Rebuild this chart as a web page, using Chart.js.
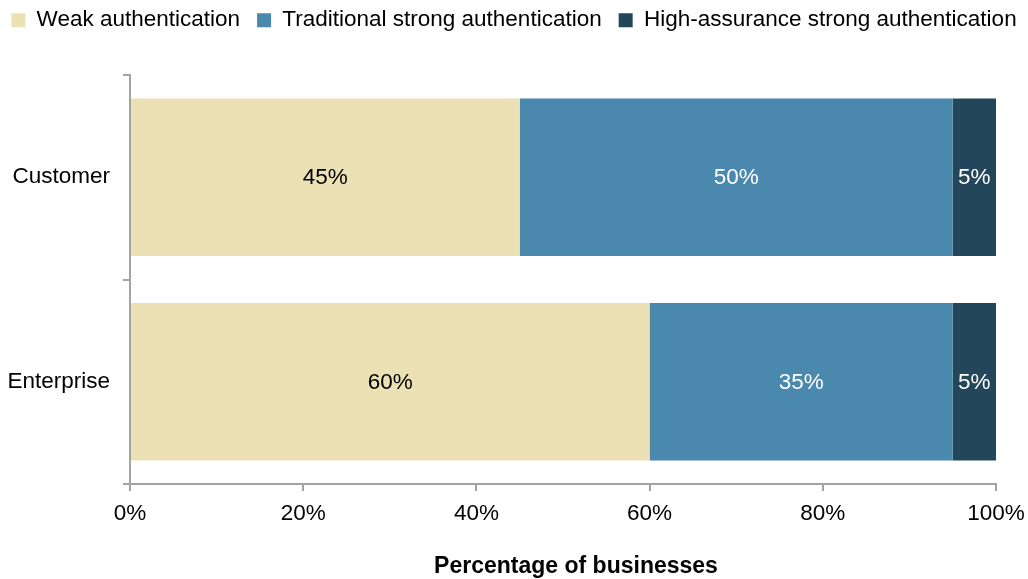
<!DOCTYPE html>
<html>
<head>
<meta charset="utf-8">
<script src="https://cdn.jsdelivr.net/npm/chart.js@4"></script>
<style>
    html, body { margin: 0; padding: 0; background: #fff; }
    #wrap { width: 1028px; height: 579px; }
</style>
</head>
<body>
<div id="wrap"><canvas id="authChart" width="1028" height="579"></canvas></div>
<script>
// Authentication mix by user type
const categories = ['Customer', 'Enterprise'];
const weakAuth = [45, 60];
const traditionalAuth = [50, 35];
const highAssuranceAuth = [5, 5];
const xTicks = [0, 20, 40, 60, 80, 100];

const FONT = '"Liberation Sans", Arial, sans-serif';
const FONT_SIZE = 22.5;
const AXIS_GREY = '#a3a3a3';

// Legend kept on one row with a fixed height, pulled up a little
const fitPlugin = {
    id: 'fitBoxes',
    beforeInit(chart) {
        const legend = chart.legend;
        if (legend) {
            const origFit = legend.fit;
            legend.fit = function () {
                const mw = this.maxWidth;
                this.maxWidth = 4000;
                origFit.call(this);
                this.maxWidth = mw;
                this.width = mw;
                this.height = 75;
            };
            const origDraw = legend.draw;
            legend.draw = function () {
                // widen the row bounds so the last item does not wrap
                const r = this.right;
                this.right = r + 60;
                const ctx = this.ctx;
                ctx.save();
                ctx.translate(-30, -8);
                origDraw.call(this);
                ctx.restore();
                this.right = r;
            };
        }
    },
    afterLayout(chart) {
        // axis title sits a bit right of the plot centre
        const xs = chart.scales.x;
        if (xs && !xs._titleShifted) {
            const origTitle = xs.drawTitle;
            xs.drawTitle = function () {
                const ctx = this.ctx;
                ctx.save();
                ctx.translate(13, 0);
                origTitle.call(this);
                ctx.restore();
            };
            xs._titleShifted = true;
        }
    }
};

// Percent labels centred in each segment
const segmentLabels = {
    id: 'segmentLabels',
    afterDatasetsDraw(chart) {
        const ctx = chart.ctx;
        ctx.save();
        ctx.font = FONT_SIZE + 'px ' + FONT;
        ctx.textAlign = 'center';
        ctx.textBaseline = 'middle';
        chart.data.datasets.forEach((ds, i) => {
            const meta = chart.getDatasetMeta(i);
            meta.data.forEach((bar, j) => {
                const p = bar.getProps(['x', 'y', 'base'], true);
                ctx.fillStyle = ds.labelColor;
                ctx.fillText(ds.data[j] + '%', (p.x + p.base) / 2, p.y + 1);
            });
        });
        ctx.restore();
    }
};

new Chart(document.getElementById('authChart'), {
    type: 'bar',
    data: {
        labels: categories,
        datasets: [
            { label: 'Weak authentication', data: weakAuth, backgroundColor: '#ebe1b5', labelColor: '#000' },
            { label: 'Traditional strong authentication', data: traditionalAuth, backgroundColor: '#4a88ad', labelColor: '#fff' },
            { label: 'High-assurance strong authentication', data: highAssuranceAuth, backgroundColor: '#24465a', labelColor: '#fff' }
        ]
    },
    options: {
        indexAxis: 'y',
        responsive: false,
        animation: false,
        devicePixelRatio: 1,
        layout: { padding: 0 },
        datasets: {
            bar: { categoryPercentage: 1, barPercentage: 0.77, borderWidth: 0 }
        },
        plugins: {
            legend: {
                position: 'top',
                labels: {
                    boxWidth: 14,
                    boxHeight: 14,
                    padding: 17,
                    color: '#000',
                    font: { family: FONT, size: FONT_SIZE }
                }
            },
            tooltip: { enabled: false }
        },
        scales: {
            x: {
                stacked: true,
                min: 0,
                max: 100,
                afterBuildTicks(scale) {
                    scale.ticks = xTicks.map(v => ({ value: v }));
                },
                afterFit(scale) {
                    scale.height = 95;
                    scale.paddingLeft = 0;
                    scale.paddingRight = 32;
                },
                ticks: {
                    color: '#000',
                    padding: 9,
                    font: { family: FONT, size: FONT_SIZE },
                    callback: v => v + '%'
                },
                grid: { drawOnChartArea: false, tickLength: 7, color: AXIS_GREY, lineWidth: 2 },
                border: { color: AXIS_GREY, width: 2 },
                title: {
                    display: true,
                    text: 'Percentage of businesses',
                    color: '#000',
                    padding: { top: 0, bottom: 0 },
                    font: { family: FONT, size: 23, weight: 'bold', lineHeight: 1.1 }
                }
            },
            y: {
                stacked: true,
                afterFit(scale) { scale.width = 130; },
                ticks: {
                    color: '#000',
                    padding: 13,
                    font: { family: FONT, size: FONT_SIZE }
                },
                grid: { drawOnChartArea: false, offset: true, tickLength: 7, color: AXIS_GREY, lineWidth: 2 },
                border: { color: AXIS_GREY, width: 2 }
            }
        }
    },
    plugins: [fitPlugin, segmentLabels]
});
</script>
</body>
</html>
